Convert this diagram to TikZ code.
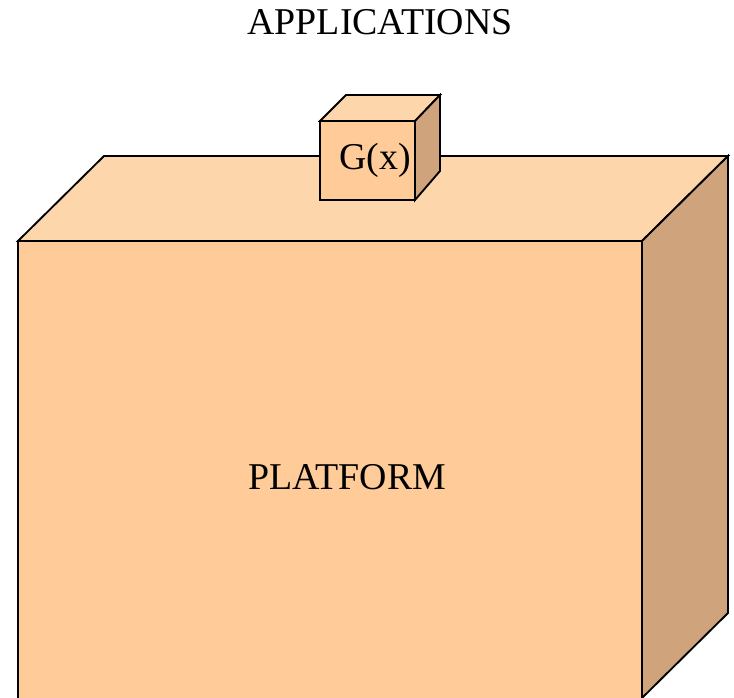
\documentclass[tikz,border=0pt]{standalone}
\usepackage{fontspec}
\setmainfont{Liberation Serif}
\usepackage{xcolor}
\definecolor{frontCol}{HTML}{FFCC99}
\definecolor{topCol}{HTML}{FDD6AC}
\definecolor{sideCol}{HTML}{CFA47C}

\begin{document}
\begin{tikzpicture}[
    x=0.75pt, y=-0.75pt,
    face/.style={draw=black, line width=1.4pt, line join=miter},
    label/.style={font=\fontsize{28.4}{34}\selectfont, inner sep=0pt, text=black}
]
\useasboundingbox (0,0) rectangle (734,698);

% =====================================================================
% PLATFORM BOX
% =====================================================================
\fill[frontCol] (18,241) rectangle (642,698);
\draw[face] (18,698) -- (18,241) -- (642,241) -- (642,698);
\filldraw[face, fill=topCol] (18,241) -- (104,156) -- (728,156) -- (642,241) -- cycle;
\filldraw[face, fill=sideCol] (642,241) -- (728,156) -- (728,613) -- (642,698) -- cycle;

% =====================================================================
% G(x) CUBE
% =====================================================================
\filldraw[face, fill=frontCol] (320,121) rectangle (415,200);
\filldraw[face, fill=topCol] (320,121) -- (346,95) -- (440,95) -- (415,121) -- cycle;
\filldraw[face, fill=sideCol] (415,121) -- (440,95) -- (440,171) -- (415,200) -- cycle;

% =====================================================================
% LABELS
% =====================================================================
\node[label] (APP) at (380,22) {APPLICATIONS};
\node[label] (PLAT) at (347,477) {PLATFORM};
\node[label] (GX) at (375,160) {G(x)};

\end{tikzpicture}
\end{document}
